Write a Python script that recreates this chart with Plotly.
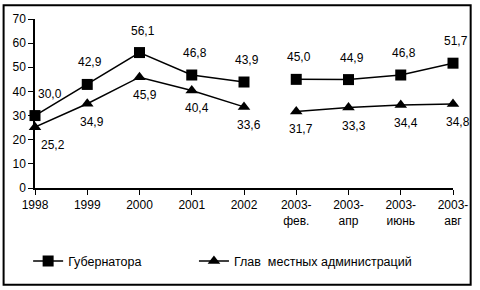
import plotly.graph_objects as go

categories = ["1998", "1999", "2000", "2001", "2002",
              "2003-<br>фев.", "2003-<br>апр", "2003-<br>июнь", "2003-<br>авг"]
gubernatora = [30.0, 42.9, 56.1, 46.8, 43.9, 45.0, 44.9, 46.8, 51.7]
glav = [25.2, 34.9, 45.9, 40.4, 33.6, 31.7, 33.3, 34.4, 34.8]
name_gub = "Губернатора"
name_glav = "Глав  местных администраций"
y_ticks = [0, 10, 20, 30, 40, 50, 60, 70]

FONT = "Liberation Sans, Arial, sans-serif"
W, H = 480, 290
L, R, T, B = 33, 21, 15, 102
pw, ph = W - L - R, H - T - B

xs = list(range(len(categories)))
split = 5

fig = go.Figure()

def add_series(vals, name, symbol, legend):
    for i, (a, b) in enumerate([(0, split), (split, len(vals))]):
        fig.add_trace(go.Scatter(
            x=xs[a:b], y=vals[a:b], mode="lines+markers", name=name,
            legendgroup=name, showlegend=(i == 0), legend=legend,
            line=dict(color="black", width=1.5),
            marker=dict(symbol=symbol, size=11, color="black"),
            cliponaxis=False,
        ))

add_series(gubernatora, name_gub, "square", "legend")
add_series(glav, name_glav, "triangle-up", "legend2")

def fmt(v):
    return f"{v:.1f}".replace(".", ",")

for i, v in enumerate(gubernatora):
    fig.add_annotation(x=xs[i], y=v, text=fmt(v), showarrow=False,
                       yshift=22, xshift=(15 if i == 0 else 3),
                       font=dict(family=FONT, size=12, color="black"))
for i, v in enumerate(glav):
    fig.add_annotation(x=xs[i], y=v, text=fmt(v), showarrow=False,
                       yshift=-18, xshift=(18 if i == 0 else 5),
                       font=dict(family=FONT, size=12, color="black"))

# outer frame
fig.add_shape(type="rect", xref="paper", yref="paper",
              x0=(1 - L) / pw, x1=(477 - L) / pw,
              y0=(H - B - 287) / ph, y1=(H - B - 1) / ph,
              line=dict(color="black", width=2))

leg_common = dict(orientation="h", xanchor="left", yanchor="middle",
                  y=(H - B - 263) / ph,
                  font=dict(family=FONT, size=12.5, color="black"),
                  bgcolor="rgba(0,0,0,0)")

fig.update_layout(
    width=W, height=H,
    margin=dict(l=L, r=R, t=T, b=B),
    paper_bgcolor="white", plot_bgcolor="white",
    font=dict(family=FONT, size=12, color="black"),
    showlegend=True,
    legend=dict(x=(26 - L) / pw, **leg_common),
    legend2=dict(x=(195 - L) / pw, **leg_common),
    xaxis=dict(range=[0, len(categories) - 1], tickmode="array",
               tickvals=xs, ticktext=categories, showline=True,
               linecolor="black", linewidth=1.5, ticks="outside",
               ticklen=5, tickcolor="black", showgrid=False, zeroline=False,
               tickangle=0),
    yaxis=dict(range=[0, 70], tickvals=y_ticks, showline=True,
               linecolor="black", linewidth=1.5, ticks="outside",
               ticklen=5, tickcolor="black", showgrid=False, zeroline=False),
)

fig.write_html("out.html", config={"displayModeBar": False},
               post_script="document.body.style.margin='0';document.body.style.overflow='hidden';")
